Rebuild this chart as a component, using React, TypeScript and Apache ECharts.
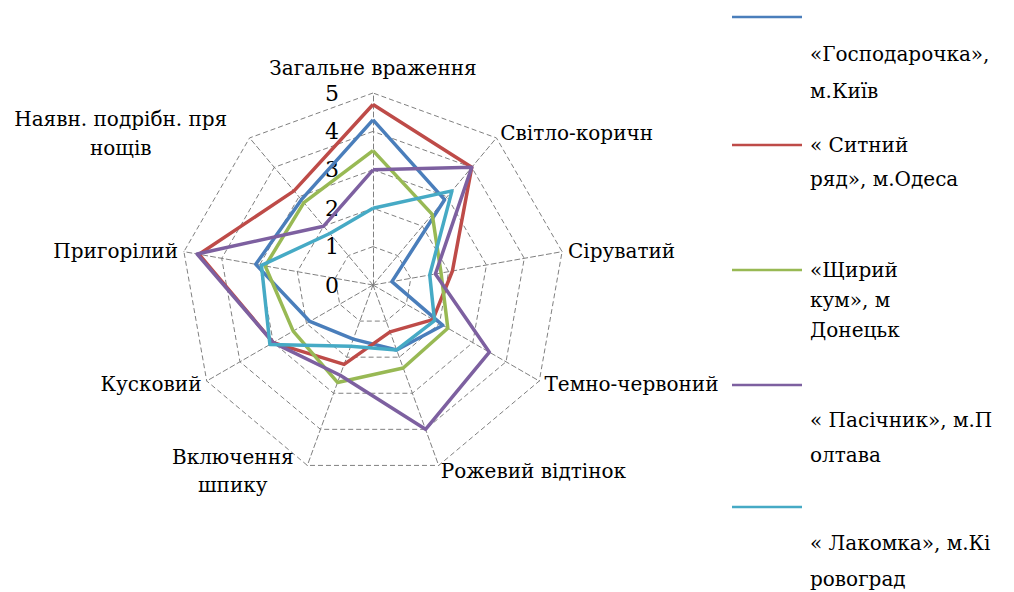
import React, { useEffect, useRef } from "react";
import * as echarts from "echarts";

// Sensory attributes, clockwise from the top
const attributes = [
  "Загальне враження",
  "Світло-коричн",
  "Сіруватий",
  "Темно-червоний",
  "Рожевий відтінок",
  "Включення\nшпику",
  "Кусковий",
  "Пригорілий",
  "Наявн. подрібн. пря\nнощів",
];

const scaleMax = 5;

// Producer names (line breaks as laid out in the legend)
const producers = [
  "«Господарочка»,\nм.Київ",
  "« Ситний\nряд», м.Одеса",
  "«Щирий\nкум», м\nДонецьк",
  "« Пасічник», м.П\nолтава",
  "« Лакомка», м.Кі\nровоград",
];

// Scores per producer, in the same clockwise order as attributes
const scoresGospodarochka = [4.3, 2.9, 0.5, 2.1, 1.8, 1.5, 1.9, 3.1, 2.9];
const scoresSytnyi = [4.7, 4.0, 2.1, 1.8, 1.3, 2.2, 3.0, 4.6, 3.2];
const scoresShchyryi = [3.5, 2.4, 1.8, 2.25, 2.3, 2.7, 2.4, 2.85, 2.8];
const scoresPasichnyk = [3.0, 4.0, 1.65, 3.5, 4.0, 2.5, 3.0, 4.65, 2.0];
const scoresLakomka = [2.0, 3.2, 1.5, 1.85, 1.8, 1.7, 3.1, 2.95, 1.75];

const allScores = [
  scoresGospodarochka,
  scoresSytnyi,
  scoresShchyryi,
  scoresPasichnyk,
  scoresLakomka,
];

const colors = ["#4A7EBB", "#BE4B48", "#98B954", "#7D60A0", "#46AAC5"];

// Legend layout: whether the swatch sits on the first text line, and where each entry starts
const swatchInline = [false, true, true, false, false];
const legendTop = [2, 130, 255, 370, 492];
const legendLineHeight = [37, 34, 30, 35, 36];

const FONT = "DejaVu Serif";

// ECharts lays radar indicators out counter-clockwise, so reverse all but the first
const ccw = <T,>(arr: T[]): T[] => [arr[0], ...arr.slice(1).reverse()];

export default function App() {
  const ref = useRef<HTMLDivElement>(null);

  useEffect(() => {
    if (!ref.current) return;
    const chart = echarts.init(ref.current, null, { renderer: "svg" });

    const indicatorNames = ccw(attributes);
    const indicator = indicatorNames.map((name, i) => ({
      name,
      min: 0,
      max: scaleMax,
      ...(i === 0 ? { axisLabel: { show: true } } : {}),
    }));

    const legends = producers.map((name, i) => {
      const lh = legendLineHeight[i];
      const lines = name.split("\n");
      let text: string;
      if (swatchInline[i]) {
        text =
          `{ln|}{g|}{t|${lines[0]}}` +
          lines.slice(1).map((l) => `\n{sp|}{t|${l}}`).join("");
      } else {
        text = `{ln|}` + lines.map((l) => `\n{sp|}{t|${l}}`).join("");
      }
      return {
        show: true,
        orient: "vertical" as const,
        left: 722,
        top: legendTop[i],
        data: [name],
        icon: "none",
        itemWidth: 0,
        itemHeight: 0,
        selectedMode: false,
        formatter: () => text,
        textStyle: {
          fontFamily: FONT,
          fontSize: 20,
          color: "#000",
          rich: {
            ln: {
              width: 70,
              height: 2.5,
              lineHeight: lh,
              backgroundColor: colors[i],
            },
            g: { width: 8, lineHeight: lh },
            sp: { width: 78, lineHeight: lh },
            t: {
              fontFamily: FONT,
              fontSize: 20,
              color: "#000",
              lineHeight: lh,
            },
          },
        },
      };
    });

    chart.setOption({
      animation: false,
      backgroundColor: "#fff",
      legend: legends,
      radar: {
        center: [373, 285],
        radius: 192,
        startAngle: 90,
        splitNumber: 5,
        shape: "polygon",
        indicator,
        nameGap: 6,
        axisName: {
          color: "#000",
          fontFamily: FONT,
          fontSize: 20,
          lineHeight: 28,
          formatter: (name: string) => {
            if (name.indexOf("\n") < 0) return name;
            const w = name.startsWith("Наявн") ? 250 : 145;
            return name
              .split("\n")
              .map((l) => `{c${w}|${l}}`)
              .join("\n");
          },
          rich: {
            c250: { width: 250, align: "center", fontFamily: FONT, fontSize: 20, color: "#000", lineHeight: 29 },
            c145: { width: 145, align: "center", fontFamily: FONT, fontSize: 20, color: "#000", lineHeight: 28 },
          },
        },
        axisLine: {
          lineStyle: { color: "#808080", type: [5, 3], width: 1 },
        },
        splitLine: {
          lineStyle: { color: "#808080", type: [5, 3], width: 1 },
        },
        splitArea: { show: false },
        axisTick: { show: false },
        axisLabel: {
          show: false,
          margin: 34,
          fontFamily: FONT,
          fontSize: 22,
          color: "#000",
        },
      },
      series: [
        {
          type: "radar",
          symbol: "none",
          data: producers.map((name, i) => ({
            name,
            value: ccw(allScores[i]),
            lineStyle: { color: colors[i], width: 3.5 },
            itemStyle: { color: colors[i] },
          })),
        },
      ],
    });

    return () => chart.dispose();
  }, []);

  return (
    <div
      ref={ref}
      style={{ position: "fixed", left: 0, top: 0, width: 1014, height: 592 }}
    />
  );
}
